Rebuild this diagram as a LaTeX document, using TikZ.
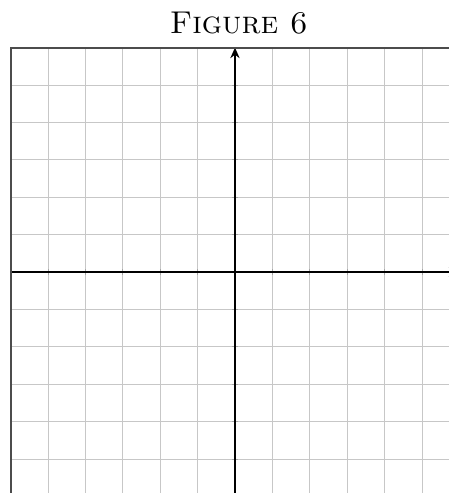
\documentclass[tikz,border=0pt]{standalone}
\usetikzlibrary{arrows.meta}
\begin{document}
\begin{tikzpicture}[x=1cm,y=1cm,
  gridline/.style={draw=black!22, line width=0.7pt},
  frameline/.style={draw=black!70, line width=1.5pt},
  axisline/.style={draw=black, line width=1.7pt},
  tickmark/.style={draw=black!35, line width=0.7pt},
  titletext/.style={font=\fontsize{24}{28}\selectfont\scshape, anchor=base}]
\useasboundingbox (-6.283,-5.909) rectangle (5.722,7.273);
\begin{scope}
\clip (-6.283,-5.909) rectangle (5.722,7.273);
\draw[gridline] (-6,-6) grid (6,6);
\foreach \i in {-5,...,5} {
  \draw[tickmark] (\i,-0.08) -- (\i,0.08);
  \draw[tickmark] (-0.08,\i) -- (0.08,\i);
}
\coordinate (xl) at (-6,0);
\coordinate (xr) at (6,0);
\coordinate (yb) at (0,-6);
\coordinate (yt) at (0,6);
\draw[axisline, -{Stealth[length=8pt,width=7pt]}] (xl) -- (xr);
\draw[axisline, -{Stealth[length=8pt,width=7pt]}] (yb) -- (yt);
\draw[frameline] (-6,-6) rectangle (6,6);
\end{scope}
\node[titletext] (title) at (0.1,6.364) {Figure 6};
\end{tikzpicture}
\end{document}
